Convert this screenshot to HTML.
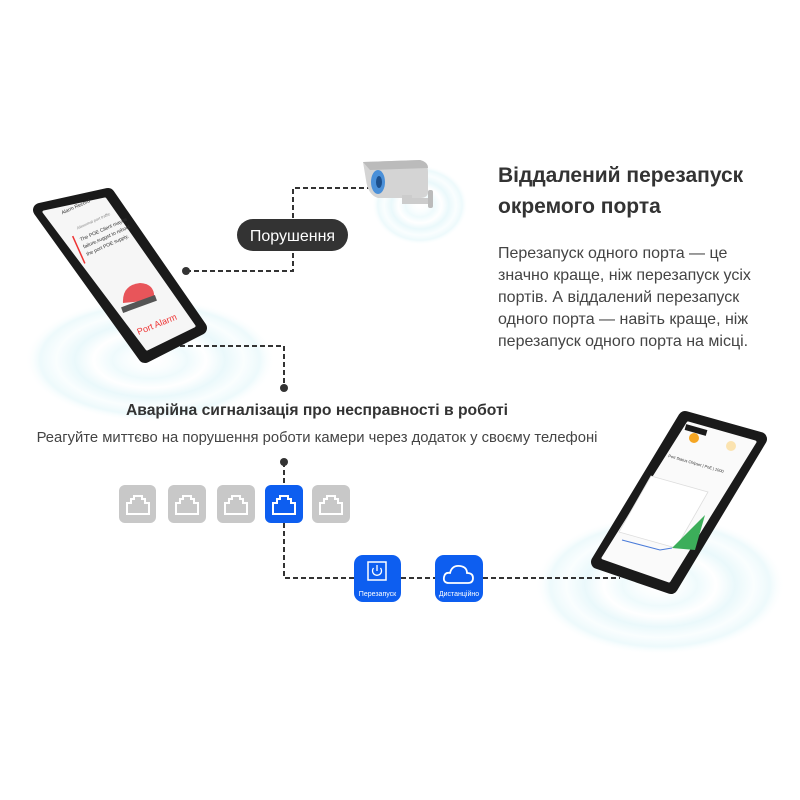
<!DOCTYPE html>
<html><head><meta charset="utf-8"><style>
body{margin:0;background:#fff;}
svg{display:block}
text{font-family:"Liberation Sans","DejaVu Sans",sans-serif;}
</style></head><body>
<svg width="800" height="800" viewBox="0 0 800 800" xmlns="http://www.w3.org/2000/svg">
<defs>
<radialGradient id="rip" cx="50%" cy="50%" r="50%">
<stop offset="0" stop-color="#fff" stop-opacity="0"/>
<stop offset="0.3" stop-color="#e6f8fb"/>
<stop offset="0.45" stop-color="#fff"/>
<stop offset="0.6" stop-color="#dff5f9"/>
<stop offset="0.75" stop-color="#f7fdfe"/>
<stop offset="0.88" stop-color="#e4f7fa"/>
<stop offset="1" stop-color="#fff" stop-opacity="0"/>
</radialGradient>
</defs>
<g opacity="0.65">
<ellipse cx="150" cy="360" rx="125" ry="62" fill="url(#rip)"/>
<ellipse cx="660" cy="585" rx="125" ry="70" fill="url(#rip)"/>
<ellipse cx="420" cy="205" rx="48" ry="40" fill="url(#rip)"/>
</g>

<g stroke="#333" stroke-width="2" stroke-dasharray="5,3" fill="none">
<path d="M186 271 H293 V188 H372"/>
<path d="M180 346 H284 V388"/>
<path d="M284 462 V485"/>
<path d="M284 523 V578 H354"/>
<path d="M401 578 H435"/>
<path d="M483 578 H620"/>
</g>
<circle cx="186" cy="271" r="4" fill="#333"/>
<circle cx="284" cy="388" r="4" fill="#333"/>
<circle cx="284" cy="462" r="4" fill="#333"/>

<rect x="237" y="219" width="111" height="32" rx="16" fill="#333"/>
<text x="292.5" y="241" font-size="16" fill="#fff" text-anchor="middle">Порушення</text>

<g>
<path d="M363 162 L420 160 Q428 162 428 172 L428 192 Q428 198 420 198 L378 198 Q368 195 366 180 Z" fill="#d4d4d4"/>
<path d="M363 162 L420 160 Q428 162 428 168 L370 170 Z" fill="#bbb"/>
<ellipse cx="378" cy="182" rx="7" ry="12" fill="#4a90d9"/>
<ellipse cx="379" cy="182" rx="3" ry="6" fill="#1c4f8c"/>
<rect x="402" y="195" width="10" height="8" fill="#ccc"/>
<rect x="402" y="198" width="28" height="6" fill="#ccc"/>
<rect x="428" y="190" width="5" height="18" rx="2" fill="#bbb"/>
</g>

<!-- left phone -->
<polygon points="40,210 108,195 200,328 145,356" fill="#1a1a1a" stroke="#1a1a1a" stroke-width="14" stroke-linejoin="round"/>
<polygon points="44,212 105,199 194,326 147,349" fill="#f6f6f6" stroke="#f6f6f6" stroke-width="3" stroke-linejoin="round"/>
<g transform="translate(48,212) rotate(-24)">
<text x="12" y="8" font-size="5" fill="#333">Alarm Record</text>
<text x="20" y="28" font-size="4" fill="#888">Abnormal port traffic</text>
<rect x="12" y="32" width="1.5" height="30" fill="#e33"/>
<text x="18" y="40" font-size="5" fill="#333">The POE Client maybe</text>
<text x="18" y="48" font-size="5" fill="#333">failure,suggst to reboot</text>
<text x="18" y="56" font-size="5" fill="#333">the port POE supply.</text>
</g>
<path d="M123 303 Q122 285 140 283 Q156 284 154 300 Z" fill="#e8555a"/>
<rect x="121" y="301" width="36" height="6" fill="#555" transform="rotate(-20 139 304)"/>
<text x="136" y="330" font-size="9" fill="#e33" transform="rotate(-22 150 326)">Port Alarm</text>

<text x="498" y="182" font-size="21" font-weight="bold" fill="#333">Віддалений перезапуск</text>
<text x="498" y="213" font-size="21" font-weight="bold" fill="#333">окремого порта</text>
<g font-size="16" fill="#444">
<text x="498" y="258">Перезапуск одного порта —  це</text>
<text x="498" y="280">значно краще, ніж перезапуск усіх</text>
<text x="498" y="302">портів. А віддалений перезапуск</text>
<text x="498" y="324">одного порта —  навіть краще, ніж</text>
<text x="498" y="346">перезапуск одного порта на місці.</text>
</g>

<text x="317" y="415" font-size="15.7" font-weight="bold" fill="#333" text-anchor="middle">Аварійна сигналізація про несправності в роботі</text>
<text x="317" y="442" font-size="14.8" fill="#444" text-anchor="middle">Реагуйте миттєво на порушення роботи камери через додаток у своєму телефоні</text>

<g>
<rect x="119" y="485" width="37" height="38" rx="6" fill="#c8c8c8"/>
<rect x="168" y="485" width="38" height="38" rx="6" fill="#c8c8c8"/>
<rect x="217" y="485" width="38" height="38" rx="6" fill="#c8c8c8"/>
<rect x="265" y="485" width="38" height="38" rx="6" fill="#0d5ef0"/>
<rect x="312" y="485" width="38" height="38" rx="6" fill="#c8c8c8"/>
</g>
<g fill="none" stroke="#fff" stroke-width="2">
<path d="M127 514 V503 H131 V499 H134 V496 H142 V499 H145 V503 H149 V514 Z"/>
<path d="M176 514 V503 H180 V499 H183 V496 H191 V499 H194 V503 H198 V514 Z"/>
<path d="M225 514 V503 H229 V499 H232 V496 H240 V499 H243 V503 H247 V514 Z"/>
<path d="M273 514 V503 H277 V499 H280 V496 H288 V499 H291 V503 H295 V514 Z"/>
<path d="M320 514 V503 H324 V499 H327 V496 H335 V499 H338 V503 H342 V514 Z"/>
</g>

<rect x="354" y="555" width="47" height="47" rx="9" fill="#0d5ef0"/>
<rect x="368" y="562" width="18" height="18" fill="none" stroke="#fff" stroke-width="1.5"/>
<path d="M373.5 568 A4.5 4.5 0 1 0 380.5 568" fill="none" stroke="#fff" stroke-width="1.3"/>
<line x1="377" y1="565" x2="377" y2="571" stroke="#fff" stroke-width="1.3"/>
<text x="377.5" y="596" font-size="7" fill="#fff" text-anchor="middle">Перезапуск</text>
<rect x="435" y="555" width="48" height="47" rx="9" fill="#0d5ef0"/>
<path d="M449 583 Q443 583 444 577 Q445 572 450 573 Q452 565 460 566 Q467 567 467 573 Q473 573 473 578 Q473 583 468 583 Z" fill="none" stroke="#fff" stroke-width="1.8"/>
<text x="459" y="596" font-size="7" fill="#fff" text-anchor="middle">Дистанційно</text>

<!-- right phone -->
<polygon points="685,418 760,439 671,587 598,562" fill="#1a1a1a" stroke="#1a1a1a" stroke-width="14" stroke-linejoin="round"/>
<polygon points="688,423 755,442 669,581 603,558" fill="#fafafa" stroke="#fafafa" stroke-width="3" stroke-linejoin="round"/>
<rect x="685" y="427" width="22" height="6" fill="#1a1a1a" transform="rotate(16 696 430)"/>
<circle cx="694" cy="438" r="5" fill="#f5a623"/>
<circle cx="731" cy="446" r="5" fill="#fbe3b0"/>
<polygon points="651,476 708,492 676,548 619,532" fill="#fff" stroke="#ddd" stroke-width="0.8"/>
<path d="M622 540 L660 550 L672 548" stroke="#4a7bd9" fill="none" stroke-width="1"/>
<path d="M672 548 L705 515 L695 550 Z" fill="#3cae5a"/>
<text x="668" y="457" font-size="4" fill="#333" transform="rotate(16 668 457)">Port Status Chipset | PoE | 1000</text>
</svg>
</body></html>
